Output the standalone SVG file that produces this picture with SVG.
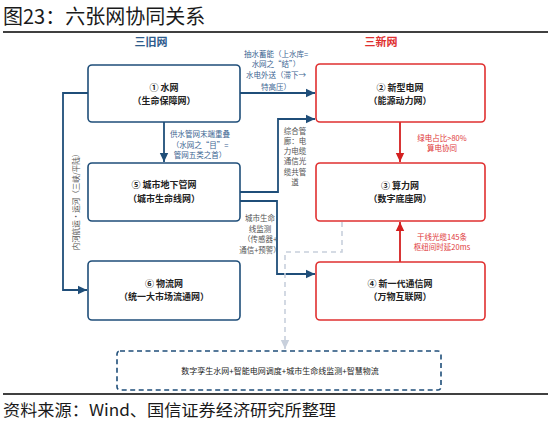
<svg xmlns="http://www.w3.org/2000/svg" width="550" height="428" viewBox="0 0 550 428">
<style>
text{font-family:"Noto Sans CJK SC","Liberation Sans",sans-serif;}
.title{font-size:20px;fill:#1a1a1a;}
.src{font-size:16px;fill:#1a1a1a;}
.hdr{font-size:11px;font-weight:bold;}
.bt{font-size:9px;font-weight:bold;fill:#222;text-anchor:middle;}
.lb{font-size:7.5px;text-anchor:middle;}
.lbb{fill:#3b6491;}
.lbg{fill:#555;}
.lbr{fill:#e0383a;}
.bbox{fill:#fff;stroke:#1f4e79;stroke-width:1.6;}
.rbox{fill:#fff;stroke:#e03030;stroke-width:1.6;}
.cb{fill:none;stroke:#1f4e79;stroke-width:1.8;}
.cr{fill:none;stroke:#d42020;stroke-width:1.8;}
.cg{fill:none;stroke:#c8d0dc;stroke-width:1.6;stroke-dasharray:5 4;}
</style>
<defs>
<marker id="ab" markerUnits="userSpaceOnUse" markerWidth="10" markerHeight="10" refX="9" refY="5" orient="auto"><path d="M0,0.8 L9,5 L0,9.2 Z" fill="#1f4e79"/></marker>
<marker id="ar" markerUnits="userSpaceOnUse" markerWidth="10" markerHeight="10" refX="9" refY="5" orient="auto"><path d="M0,0.8 L9,5 L0,9.2 Z" fill="#d42020"/></marker>
<marker id="ag" markerUnits="userSpaceOnUse" markerWidth="10" markerHeight="10" refX="9" refY="5" orient="auto"><path d="M0,0.8 L9,5 L0,9.2 Z" fill="#c8d0dc"/></marker>
</defs>
<text class="title" x="3" y="24">图23：六张网协同关系</text>
<line x1="3" y1="32" x2="548" y2="32" stroke="#404040" stroke-width="2"/>
<text class="hdr" x="151" y="46" text-anchor="middle" fill="#2e5b8c">三旧网</text>
<text class="hdr" x="381" y="46" text-anchor="middle" fill="#e03030">三新网</text>
<g id="connectors">
<path class="cb" d="M240 93 H315" marker-end="url(#ab)"/>
<path class="cb" d="M164 122 V162" marker-end="url(#ab)"/>
<path class="cb" d="M240 192 H278 V119 H315" marker-end="url(#ab)"/>
<path class="cb" d="M240 201 H277 V274 H315" marker-end="url(#ab)"/>
<path class="cb" d="M88 93 H63 V290 H87" marker-end="url(#ab)"/>
<path class="cr" d="M400 122 V162" marker-end="url(#ar)"/>
<path class="cr" d="M400 262 V222" marker-end="url(#ar)"/>
<path class="cg" d="M342 222 V252 H285 V349" marker-end="url(#ag)"/>
<g class="lb lbb">
<text x="276" y="57">抽水蓄能（上水库=</text>
<text x="276" y="67">水网之“结”）</text>
<text x="276" y="78">水电外送（滞下→</text>
<text x="276" y="90">特高压）</text>
<text x="200" y="137">供水管网末端重叠</text>
<text x="200" y="147.5">（水网之“目”=</text>
<text x="200" y="158">管网五类之首）</text>
</g>
<g class="lb lbg">
<text x="295" y="134">综合管</text>
<text x="295" y="144">廊：电</text>
<text x="295" y="154">力电缆</text>
<text x="295" y="164">通信光</text>
<text x="295" y="175">缆共管</text>
<text x="295" y="185">道</text>
<text x="260" y="221">城市生命</text>
<text x="260" y="232">线监测</text>
<text x="260" y="242">（传感器+</text>
<text x="260" y="253">通信+预警）</text>
</g>
<g class="lb lbr">
<text x="442" y="141">绿电占比&gt;80%</text>
<text x="442" y="151">算电协同</text>
<text x="442" y="240">干线光缆145条</text>
<text x="442" y="250">枢纽间时延20ms</text>
</g>
<text class="lb lbg" font-size="7.5" transform="translate(79 200) rotate(-90)" x="0" y="0">内河航运·运河（三峡/平陆）</text>
</g>
<g id="n1"><rect class="bbox" x="88" y="65" width="152" height="57" rx="4"/><text class="bt" x="164" y="91">① 水网</text><text class="bt" x="164" y="104">（生命保障网）</text></g>
<g id="n2"><rect class="rbox" x="316" y="64" width="169" height="58" rx="4"/><text class="bt" x="400" y="91">② 新型电网</text><text class="bt" x="400" y="104">（能源动力网）</text></g>
<g id="n5"><rect class="bbox" x="88" y="163" width="152" height="58" rx="4"/><text class="bt" x="164" y="188">⑤ 城市地下管网</text><text class="bt" x="164" y="202">（城市生命线网）</text></g>
<g id="n3"><rect class="rbox" x="316" y="163" width="169" height="58" rx="4"/><text class="bt" x="400" y="189">③ 算力网</text><text class="bt" x="400" y="202">（数字底座网）</text></g>
<g id="n6"><rect class="bbox" x="88" y="261" width="152" height="59" rx="4"/><text class="bt" x="164" y="287">⑥ 物流网</text><text class="bt" x="164" y="300">（统一大市场流通网）</text></g>
<g id="n4"><rect class="rbox" x="316" y="262" width="169" height="58" rx="4"/><text class="bt" x="400" y="287">④ 新一代通信网</text><text class="bt" x="400" y="300">（万物互联网）</text></g>
<g id="n7"><rect x="117" y="351" width="324" height="39" rx="3" fill="#fff" stroke="#1f4e79" stroke-width="1.6" stroke-dasharray="5 3.5"/><text x="280" y="374" font-size="8" fill="#222" text-anchor="middle">数字孪生水网+智能电网调度+城市生命线监测+智慧物流</text></g>
<line x1="3" y1="394" x2="548" y2="394" stroke="#404040" stroke-width="2"/>
<text class="src" x="3" y="416" textLength="333" lengthAdjust="spacingAndGlyphs">资料来源：Wind、国信证券经济研究所整理</text>
</svg>
